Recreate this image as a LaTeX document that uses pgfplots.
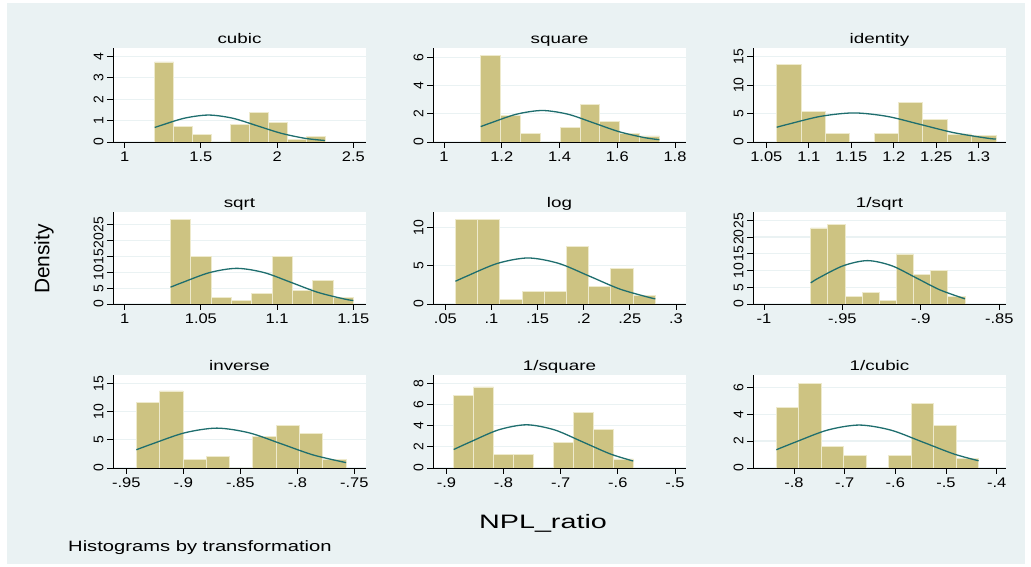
\documentclass[border=0pt]{standalone}
\usepackage{pgfplots}
\pgfplotsset{compat=1.18}
\usepackage{fontspec}
\setmainfont{Liberation Sans}
\newfontfamily\tickfont[FakeStretch=1.18]{Liberation Sans}
\newfontfamily\titlefont[FakeStretch=1.35]{Liberation Sans}
\newfontfamily\bigfont[FakeStretch=1.35]{Liberation Sans}
\newfontfamily\nplfont[FakeStretch=1.48]{Liberation Sans}
\definecolor{bgc}{RGB}{234,242,243}
\definecolor{barc}{RGB}{205,195,130}
\definecolor{barl}{RGB}{238,234,205}
\definecolor{curvec}{RGB}{30,110,110}
\pgfplotsset{panel/.style={
  scale only axis, width=253bp, anchor=south west,
  axis x line*=bottom, axis y line*=left,
  axis line style={black, line width=0.8bp, -},
  axis background/.style={fill=white},
  tick align=outside, major tick length=6bp,
  tick style={black, line width=0.8bp},
  ymajorgrids, grid style={bgc, line width=1.2bp},
  xticklabel style={font=\tickfont\fontsize{14}{14}\selectfont},
  yticklabel style={font=\fontsize{14}{14}\selectfont, rotate=90, anchor=south},
  title style={font=\titlefont\fontsize{14}{15}\selectfont, at={(0.5,1)}, anchor=base, yshift=-1.5bp},
  clip=false,
 },
 bars/.style={ybar interval, fill=barc, draw=barl, line width=0.8bp},
 curve/.style={smooth, curvec, line width=1.3bp, mark=none},
}
\newcommand{\xaxisline}{\draw[black, line width=0.8bp] (rel axis cs:0,0) -- (rel axis cs:1,0);}
\begin{document}
\begin{tikzpicture}
\fill[white] (0bp,0bp) rectangle (1031bp,567bp);
\fill[bgc] (7bp,3bp) rectangle (1025bp,564bp);
% ---------- row 1
\begin{axis}[panel, at={(113bp,425bp)}, height=94bp, title={cubic},
  xmin=0.9236, xmax=2.583, ymin=0, ymax=4.39,
  xtick={1,1.5,2,2.5}, xticklabels={1,1.5,2,2.5},
  ytick={0,1,2,3,4}, yticklabels={0,1,2,3,4}]
\addplot[bars] coordinates {(1.197,3.74) (1.3211,0.71) (1.4452,0.36) (1.5693,0) (1.6934,0.82) (1.8176,1.38) (1.9417,0.93) (2.0658,0.13) (2.1899,0.25) (2.314,0.25)};
\addplot[curve] coordinates {(1.197,0.677) (1.233,0.763) (1.3915,1.111) (1.55,1.2585) (1.7085,1.111) (1.867,0.763) (2.0255,0.409) (2.184,0.170) (2.314,0.069)};
\xaxisline
\end{axis}
\begin{axis}[panel, at={(433bp,425bp)}, height=94bp, title={square},
  xmin=0.9618, xmax=1.838, ymin=0, ymax=6.69,
  xtick={1,1.2,1.4,1.6,1.8}, xticklabels={1,1.2,1.4,1.6,1.8},
  ytick={0,2,4,6}, yticklabels={0,2,4,6}]
\addplot[bars] coordinates {(1.127,6.15) (1.1958,1.87) (1.2646,0.62) (1.3333,0) (1.4021,1.05) (1.4709,2.66) (1.5397,1.46) (1.6085,0.6) (1.6772,0.43) (1.746,0.43)};
\addplot[curve] coordinates {(1.127,1.095) (1.162,1.359) (1.251,1.978) (1.34,2.241) (1.429,1.978) (1.518,1.359) (1.607,0.728) (1.696,0.303) (1.746,0.166)};
\xaxisline
\end{axis}
\begin{axis}[panel, at={(753bp,425bp)}, height=94bp, title={identity},
  xmin=1.0343, xmax=1.3322, ymin=0, ymax=16.54,
  xtick={1.05,1.1,1.15,1.2,1.25,1.3}, xticklabels={1.05,1.1,1.15,1.2,1.25,1.3},
  ytick={0,5,10,15}, yticklabels={0,5,10,15}]
\addplot[bars] coordinates {(1.0622,13.7) (1.0909,5.43) (1.1196,1.54) (1.1483,0) (1.1770,1.54) (1.2056,6.97) (1.2343,4.02) (1.2630,1.42) (1.2917,1.12) (1.3204,1.12)};
\addplot[curve] coordinates {(1.0622,2.598) (1.075,3.102) (1.114,4.514) (1.153,5.115) (1.192,4.514) (1.231,3.102) (1.27,1.661) (1.309,0.692) (1.3204,0.511)};
\xaxisline
\end{axis}
% ---------- row 2
\begin{axis}[panel, at={(113bp,263bp)}, height=92bp, title={sqrt},
  xmin=0.99236, xmax=1.1583, ymin=0, ymax=29.0,
  xtick={1,1.05,1.1,1.15}, xticklabels={1,1.05,1.1,1.15},
  ytick={0,5,10,15,20,25}, yticklabels={0,5,10,15,20,25}]
\addplot[bars] coordinates {(1.0301,26.7) (1.0434,14.9) (1.0567,2.1) (1.0701,1.05) (1.0834,3.36) (1.0967,14.9) (1.1100,4.3) (1.1234,7.46) (1.1367,2.1) (1.15,2.1)};
\addplot[curve] coordinates {(1.0301,5.305) (1.0381,6.816) (1.05585,9.918) (1.0736,11.238) (1.09135,9.918) (1.1091,6.816) (1.12685,3.649) (1.1446,1.521) (1.15,1.109)};
\xaxisline
\end{axis}
\begin{axis}[panel, at={(433bp,263bp)}, height=92bp, title={log},
  xmin=0.0366, xmax=0.3109, ymin=0, ymax=12.03,
  xtick={0.05,0.1,0.15,0.2,0.25,0.3}, xticklabels={.05,.1,.15,.2,.25,.3},
  ytick={0,5,10}, yticklabels={0,5,10}]
\addplot[bars] coordinates {(0.0609,11.0) (0.0850,11.0) (0.1091,0.56) (0.1331,1.69) (0.1572,1.69) (0.1813,7.49) (0.2054,2.25) (0.2294,4.63) (0.2535,1.13) (0.2776,1.13)};
\addplot[curve] coordinates {(0.0609,2.970) (0.0734,3.650) (0.10655,5.310) (0.1397,6.017) (0.17285,5.310) (0.206,3.650) (0.23915,1.954) (0.2723,0.814) (0.2776,0.692)};
\xaxisline
\end{axis}
\begin{axis}[panel, at={(753bp,263bp)}, height=92bp, title={1/sqrt},
  xmin=-1.007, xmax=-0.8457, ymin=0, ymax=27.47,
  xtick={-1,-0.95,-0.9,-0.85}, xticklabels={-1,-.95,-.9,-.85},
  ytick={0,5,10,15,20,25}, yticklabels={0,5,10,15,20,25}]
\addplot[bars] coordinates {(-0.9702,22.7) (-0.9593,23.8) (-0.9484,2.38) (-0.9374,3.56) (-0.9265,1.19) (-0.9156,14.95) (-0.9047,8.7) (-0.8938,9.9) (-0.8828,2.38) (-0.8719,2.38)};
\addplot[curve] coordinates {(-0.9702,6.30) (-0.9648,7.856) (-0.9494,11.431) (-0.934,12.953) (-0.9186,11.431) (-0.9032,7.856) (-0.8878,4.206) (-0.8719,1.55)};
\xaxisline
\end{axis}
% ---------- row 3
\begin{axis}[panel, at={(113bp,99bp)}, height=93bp, title={inverse},
  xmin=-0.9617, xmax=-0.7398, ymin=0, ymax=16.47,
  xtick={-0.95,-0.9,-0.85,-0.8,-0.75}, xticklabels={-.95,-.9,-.85,-.8,-.75},
  ytick={0,5,10,15}, yticklabels={0,5,10,15}]
\addplot[bars] coordinates {(-0.9412,11.53) (-0.9208,13.65) (-0.9003,1.47) (-0.8799,2.06) (-0.8595,0) (-0.8390,5.53) (-0.8186,7.59) (-0.7982,6.18) (-0.7777,1.47) (-0.7573,1.47)};
\addplot[curve] coordinates {(-0.9412,3.235) (-0.9271,4.283) (-0.89885,6.231) (-0.8706,7.061) (-0.84235,6.231) (-0.8141,4.283) (-0.78585,2.293) (-0.7573,0.953)};
\xaxisline
\end{axis}
\begin{axis}[panel, at={(433bp,99bp)}, height=93bp, title={1/square},
  xmin=-0.9234, xmax=-0.4807, ymin=0, ymax=8.78,
  xtick={-0.9,-0.8,-0.7,-0.6,-0.5}, xticklabels={-.9,-.8,-.7,-.6,-.5},
  ytick={0,2,4,6,8}, yticklabels={0,2,4,6,8}]
\addplot[bars] coordinates {(-0.8872,6.83) (-0.8523,7.65) (-0.8174,1.25) (-0.7825,1.25) (-0.7476,0) (-0.7126,2.45) (-0.6777,5.24) (-0.6428,3.64) (-0.6079,0.85) (-0.573,0.85)};
\addplot[curve] coordinates {(-0.8872,1.746) (-0.8576,2.474) (-0.8087,3.600) (-0.7598,4.079) (-0.7109,3.600) (-0.662,2.474) (-0.6131,1.325) (-0.573,0.658)};
\xaxisline
\end{axis}
\begin{axis}[panel, at={(753bp,99bp)}, height=93bp, title={1/cubic},
  xmin=-0.881, xmax=-0.3815, ymin=0, ymax=6.91,
  xtick={-0.8,-0.7,-0.6,-0.5,-0.4}, xticklabels={-.8,-.7,-.6,-.5,-.4},
  ytick={0,2,4,6}, yticklabels={0,2,4,6}]
\addplot[bars] coordinates {(-0.8349,4.47) (-0.7905,6.30) (-0.7462,1.6) (-0.7018,0.96) (-0.6574,0) (-0.6131,0.96) (-0.5687,4.77) (-0.5243,3.19) (-0.4800,0.69) (-0.4356,0.69)};
\addplot[curve] coordinates {(-0.8349,1.358) (-0.7965,1.936) (-0.734,2.816) (-0.6715,3.1915) (-0.609,2.816) (-0.5465,1.936) (-0.484,1.036) (-0.4356,0.538)};
\xaxisline
\end{axis}
% ---------- outer labels
\node[rotate=90, anchor=center, font=\fontsize{21}{21}\selectfont] at (44bp,308bp) {Density};
\node[anchor=base, font=\nplfont\fontsize{19.5}{20}\selectfont] at (543bp,38.7bp) {NPL\_ratio};
\node[anchor=base west, inner sep=0pt, font=\bigfont\fontsize{15}{16}\selectfont] at (68bp,15.3bp) {Histograms by transformation};
\end{tikzpicture}
\end{document}
